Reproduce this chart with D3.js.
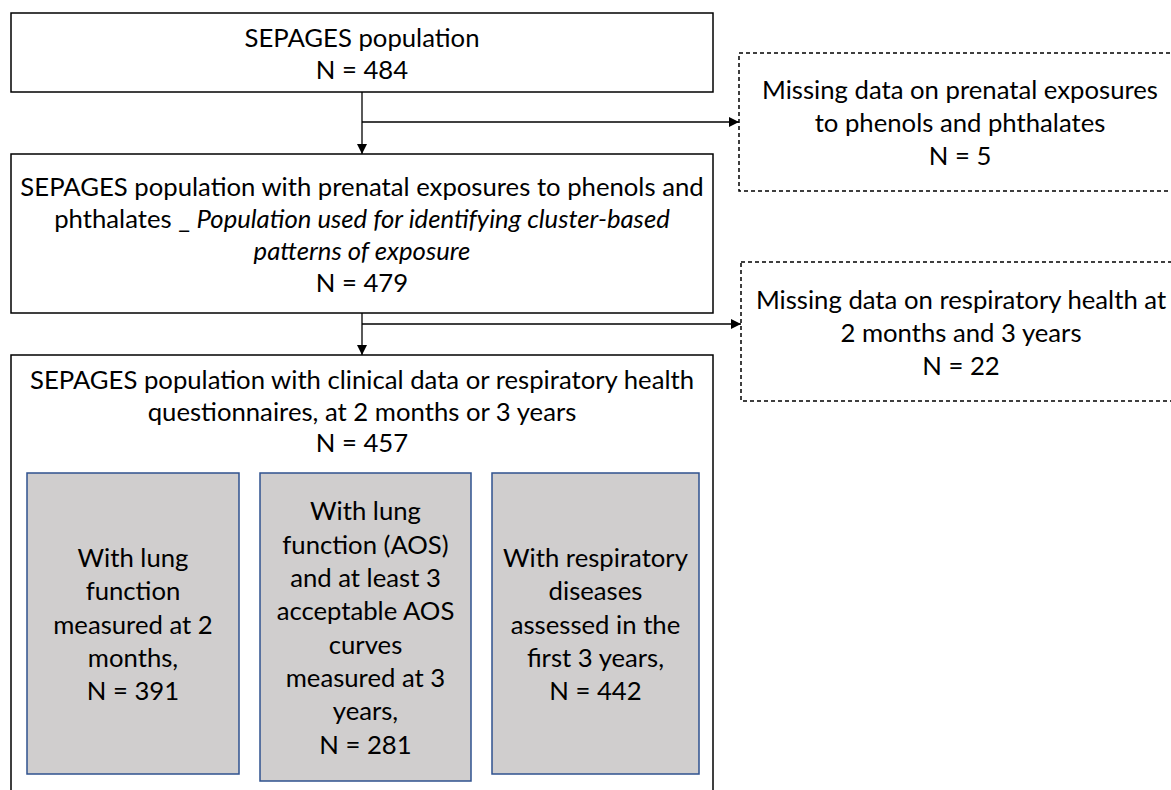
<!DOCTYPE html>
<html>
<head>
<meta charset="utf-8">
<script src="https://cdn.jsdelivr.net/npm/d3@7"></script>
<style>
  body { margin: 0; background: #fff; }
  svg { display: block; }
  text { font-family: Lato, "Open Sans", sans-serif; font-size: 25.7px; fill: #000; }
</style>
</head>
<body>
<svg id="chart"></svg>
<script>
const width = 1171;
const height = 790;

// main flow: label lines (segments of [text, italic]) and counts
const mainLabels = [
  [[["SEPAGES population", false]]],
  [[["SEPAGES population with prenatal exposures to phenols and", false]],
   [["phthalates _ ", false], ["Population used for identifying cluster-based", true]],
   [["patterns of exposure", true]]],
  [[["SEPAGES population with clinical data or respiratory health", false]],
   [["questionnaires, at 2 months or 3 years", false]]]
];
const mainCounts = [484, 479, 457];

// excluded participants
const excludedLabels = [
  ["Missing data on prenatal exposures", "to phenols and phthalates"],
  ["Missing data on respiratory health at", "2 months and 3 years"]
];
const excludedCounts = [5, 22];

// sub-populations
const subLabels = [
  ["With lung", "function", "measured at 2", "months,"],
  ["With lung", "function (AOS)", "and at least 3", "acceptable AOS", "curves", "measured at 3", "years,"],
  ["With respiratory", "diseases", "assessed in the", "first 3 years,"]
];
const subCounts = [391, 281, 442];

// layout
const mainBoxes = [
  { x0: 11, x1: 713, y0: 13, y1: 92 },
  { x0: 11, x1: 713, y0: 154, y1: 313 },
  { x0: 11, x1: 713, y0: 355, y1: 800 }
];
const exBoxes = [
  { x0: 739, x1: 1182, y0: 53, y1: 191, arrowY: 122 },
  { x0: 741, x1: 1182, y0: 262, y1: 401, arrowY: 324 }
];
const subBoxes = [
  { x0: 27, x1: 239, y0: 473, y1: 774 },
  { x0: 260, x1: 471, y0: 473, y1: 781 },
  { x0: 492, x1: 699, y0: 473, y1: 774 }
];
const stemX = 362;

const svg = d3.select("#chart")
  .attr("width", width)
  .attr("height", height)
  .attr("viewBox", `0 0 ${width} ${height}`);

svg.append("defs").append("marker")
  .attr("id", "arrow")
  .attr("viewBox", "0 0 10 10")
  .attr("refX", 10).attr("refY", 5)
  .attr("markerWidth", 10).attr("markerHeight", 10)
  .attr("markerUnits", "userSpaceOnUse")
  .attr("orient", "auto")
  .append("path")
  .attr("d", "M0,0 L10,5 L0,10 Z")
  .attr("fill", "#000");

function box(b, stroke, fill, dash) {
  svg.append("rect")
    .attr("x", b.x0).attr("y", b.y0)
    .attr("width", b.x1 - b.x0).attr("height", b.y1 - b.y0)
    .attr("fill", fill)
    .attr("stroke", stroke)
    .attr("stroke-width", 1.5)
    .attr("stroke-dasharray", dash || null);
}

// lines: array of arrays of [text, italic]
function label(lines, cx, firstBaseline, lh) {
  const t = svg.append("text").attr("text-anchor", "middle");
  lines.forEach((segs, i) => {
    segs.forEach((s, j) => {
      const ts = t.append("tspan").text(s[0]);
      if (j === 0) ts.attr("x", cx).attr("y", firstBaseline + i * lh);
      if (s[1]) ts.attr("font-style", "italic");
    });
  });
}

function centred(lines, b, lh) {
  const first = (b.y0 + b.y1) / 2 - (lines.length - 1) / 2 * lh + 10;
  label(lines, (b.x0 + b.x1) / 2, first, lh);
}

// main boxes
mainBoxes.forEach((b, i) => {
  box(b, "#000", "#fff");
  const lines = mainLabels[i].concat([[[`N = ${mainCounts[i]}`, false]]]);
  if (i === 2) label(lines, (b.x0 + b.x1) / 2, b.y0 + 34, 31.5);
  else centred(lines, b, 32);
});

// excluded boxes
exBoxes.forEach((b, i) => {
  box(b, "#000", "#fff", "4,3");
  const lines = excludedLabels[i].concat([`N = ${excludedCounts[i]}`]).map(s => [[s, false]]);
  centred(lines, { x0: b.x0, x1: 1181, y0: b.y0, y1: b.y1 }, 33);
});

// sub boxes
subBoxes.forEach((b, i) => {
  box(b, "#2f528f", "#d0cece");
  const lines = subLabels[i].concat([`N = ${subCounts[i]}`]).map(s => [[s, false]]);
  centred(lines, b, 33.3);
});

// connectors
[0, 1].forEach(i => {
  const from = mainBoxes[i], to = mainBoxes[i + 1], ex = exBoxes[i];
  svg.append("line")
    .attr("x1", stemX).attr("y1", from.y1)
    .attr("x2", stemX).attr("y2", to.y0)
    .attr("stroke", "#000").attr("stroke-width", 1.3)
    .attr("marker-end", "url(#arrow)");
  svg.append("line")
    .attr("x1", stemX).attr("y1", ex.arrowY)
    .attr("x2", ex.x0).attr("y2", ex.arrowY)
    .attr("stroke", "#000").attr("stroke-width", 1.3)
    .attr("marker-end", "url(#arrow)");
});
</script>
</body>
</html>
